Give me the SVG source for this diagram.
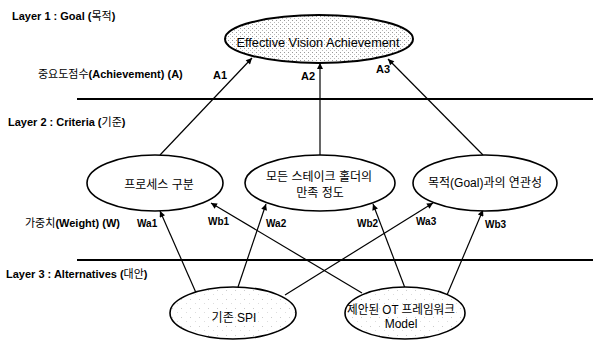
<svg xmlns="http://www.w3.org/2000/svg" width="593" height="342" viewBox="0 0 593 342">
<style>
.lbl{font-family:"Liberation Sans","Noto Sans CJK KR",sans-serif;font-size:11px;font-weight:bold;fill:#000}
.ko{font-weight:normal}
.node{font-family:"Liberation Sans","Noto Sans CJK KR",sans-serif;font-size:12px;fill:#000;text-anchor:middle}
.ell{fill:#fff;stroke:#000;stroke-width:1.6}
.sep{stroke:#000;stroke-width:2}
.con{stroke:#000;stroke-width:1.2;fill:none}
.w{font-family:"Liberation Sans",sans-serif;font-size:10px;font-weight:bold;fill:#000}
</style>
<defs>
<pattern id="dots" width="4" height="4" patternUnits="userSpaceOnUse">
<rect width="4" height="4" fill="#fff"/>
<rect x="0" y="0" width="1" height="1" fill="#999"/>
<rect x="2" y="2" width="1" height="1" fill="#bbb"/>
</pattern>
<pattern id="sparse" width="9" height="9" patternUnits="userSpaceOnUse">
<rect width="9" height="9" fill="#fff"/>
<rect x="1" y="2" width="1" height="1" fill="#ccc"/>
<rect x="6" y="6" width="1" height="1" fill="#ddd"/>
</pattern>
<marker id="arr" viewBox="0 0 10 10" refX="10" refY="5" markerWidth="7" markerHeight="6" orient="auto" markerUnits="userSpaceOnUse">
<path d="M0,0 L10,5 L0,10 z" fill="#000"/>
</marker>
</defs>

<g id="layers">
<line class="sep" x1="77" y1="99" x2="593" y2="99"/>
<line class="sep" x1="77" y1="260" x2="593" y2="260"/>
<text class="lbl" x="12" y="20">Layer 1 : Goal (<tspan class="ko">목적</tspan>)</text>
<text class="lbl" x="8" y="126">Layer 2 : Criteria (<tspan class="ko">기준</tspan>)</text>
<text class="lbl" x="6" y="278">Layer 3 : Alternatives (<tspan class="ko">대안</tspan>)</text>
<text class="lbl" x="38" y="78"><tspan class="ko">중요도점수</tspan>(Achievement) (A)</text>
<text class="lbl" x="25" y="227"><tspan class="ko">가중치</tspan>(Weight) (W)</text>
</g>

<g id="connectors">
<line class="con" x1="160" y1="155" x2="252" y2="58" marker-end="url(#arr)"/>
<line class="con" x1="320" y1="155" x2="320" y2="63" marker-end="url(#arr)"/>
<line class="con" x1="483" y1="155" x2="388" y2="59" marker-end="url(#arr)"/>
<line class="con" x1="197" y1="295" x2="160" y2="211" marker-end="url(#arr)"/>
<line class="con" x1="362" y1="293" x2="211" y2="203" marker-end="url(#arr)"/>
<line class="con" x1="238" y1="287" x2="266" y2="204" marker-end="url(#arr)"/>
<line class="con" x1="405" y1="288" x2="373" y2="204" marker-end="url(#arr)"/>
<line class="con" x1="285" y1="295" x2="433" y2="203" marker-end="url(#arr)"/>
<line class="con" x1="447" y1="295" x2="483" y2="210" marker-end="url(#arr)"/>
<text class="lbl" x="213" y="79">A1</text>
<text class="lbl" x="301" y="80">A2</text>
<text class="lbl" x="376" y="73">A3</text>
<text class="w" x="137" y="227">Wa1</text>
<text class="w" x="208" y="225">Wb1</text>
<text class="w" x="266" y="227">Wa2</text>
<text class="w" x="357" y="227">Wb2</text>
<text class="w" x="416" y="225">Wa3</text>
<text class="w" x="485" y="228">Wb3</text>
</g>

<g id="goal">
<ellipse cx="319" cy="39" rx="94" ry="24" fill="url(#dots)" stroke="#000" stroke-width="2"/>
<text class="node" x="318" y="47" font-size="13.5" textLength="163" lengthAdjust="spacingAndGlyphs">Effective Vision Achievement</text>
</g>

<g id="c1">
<ellipse class="ell" cx="155" cy="183" rx="68" ry="28"/>
<text class="node" x="159" y="189">프로세스 구분</text>
</g>
<g id="c2">
<ellipse class="ell" cx="320" cy="183" rx="75" ry="28"/>
<text class="node" x="319" y="181">모든 스테이크 홀더의</text>
<text class="node" x="320" y="197">만족 정도</text>
</g>
<g id="c3">
<ellipse class="ell" cx="485" cy="183" rx="72" ry="28"/>
<text class="node" x="485" y="187">목적(Goal)과의 연관성</text>
</g>

<g id="alt1">
<ellipse cx="233" cy="313" rx="63" ry="26" fill="url(#sparse)" stroke="#000" stroke-width="1.6"/>
<text class="node" x="234" y="322">기존 SPI</text>
</g>
<g id="alt2">
<ellipse cx="405" cy="313" rx="60" ry="26" fill="url(#sparse)" stroke="#000" stroke-width="1.6"/>
<text class="node" x="401" y="314" font-size="11" textLength="108" lengthAdjust="spacingAndGlyphs">제안된 OT 프레임워크</text>
<text class="node" x="401" y="328" font-size="11">Model</text>
</g>
</svg>
